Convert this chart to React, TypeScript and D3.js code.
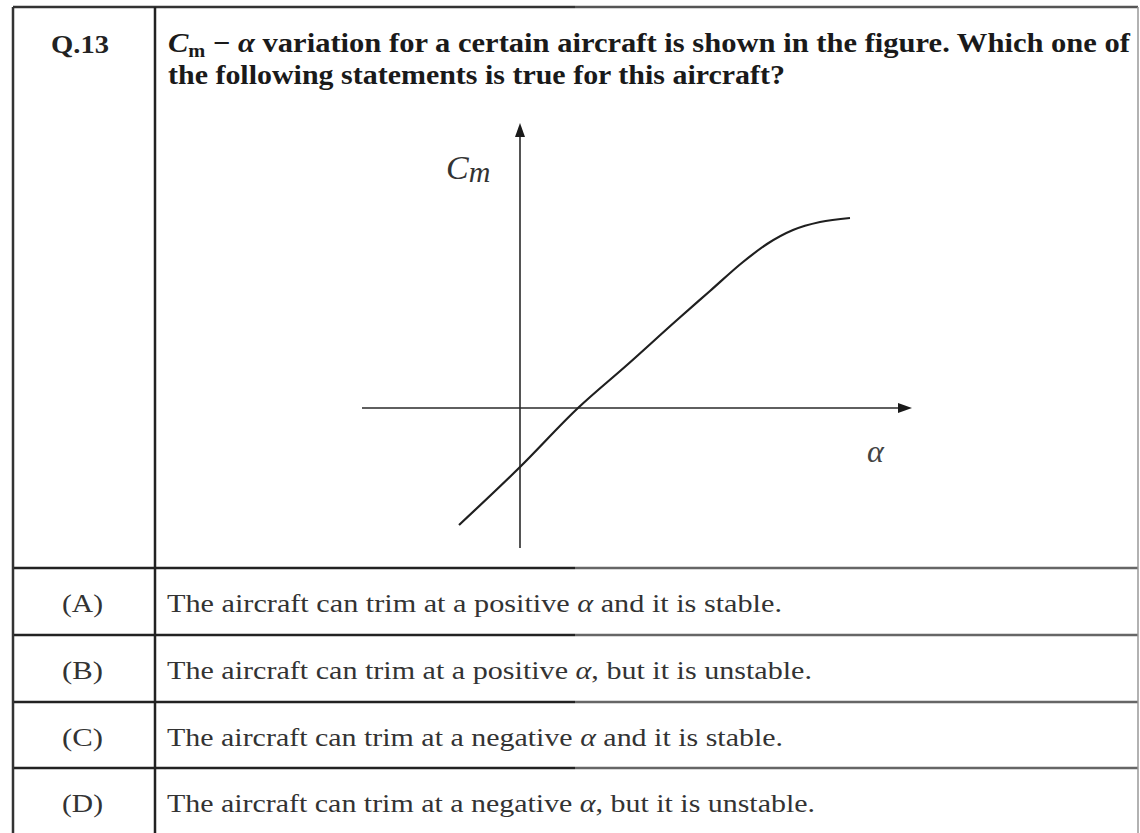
import React from 'react';
import * as d3 from 'd3';

// Cm vs alpha curve (arbitrary units, origin at axis crossing)
const alphaVals = [-0.61, 0.0, 0.58, 1.07, 1.57, 1.9, 2.23, 2.47, 2.73, 3.0, 3.3];
const cmVals = [-1.17, -0.59, 0.0, 0.43, 0.88, 1.17, 1.46, 1.64, 1.78, 1.86, 1.9];

const optionLabels = ['(A)', '(B)', '(C)', '(D)'];
const optionPre = [
  'The aircraft can trim at a positive ',
  'The aircraft can trim at a positive ',
  'The aircraft can trim at a negative ',
  'The aircraft can trim at a negative ',
];
const optionPost = [' and it is stable.', ', but it is unstable.', ' and it is stable.', ', but it is unstable.'];
const optionEnds = [782, 812, 783, 815];

const W = 1140;
const H = 833;
const SERIF = '"Liberation Serif", "Times New Roman", Times, serif';

export default function App() {
  const x = d3.scaleLinear().domain([-1.58, 3.92]).range([362, 912]);
  const y = d3.scaleLinear().domain([-1.4, 2.85]).range([548, 123]);

  const pts = alphaVals.map((a, i) => [a, cmVals[i]] as [number, number]);
  const line = d3
    .line<[number, number]>()
    .x(d => x(d[0]))
    .y(d => y(d[1]))
    .curve(d3.curveMonotoneX);

  const x0 = x(0);
  const y0 = y(0);

  // table geometry
  const left = 13;
  const divX = 155;
  const right = 1138;
  const rowLines = [568, 635, 702, 768];

  return (
    <svg width={W} height={H} style={{ position: 'absolute', left: 0, top: 0, background: '#fff' }}>
      <rect x={0} y={0} width={W} height={H} fill="#fff" />

      {/* table borders */}
      <g strokeWidth={2.5} fill="none">
        <line x1={left} y1={7} x2={575} y2={7} stroke="#333" />
        <line x1={575} y1={7} x2={right} y2={7} stroke="#555" />
        {rowLines.map((ry, i) => (
          <g key={i}>
            <line x1={left} y1={ry} x2={575} y2={ry} stroke="#222" />
            <line x1={575} y1={ry} x2={right} y2={ry} stroke="#666" />
          </g>
        ))}
        <line x1={left} y1={7} x2={left} y2={H} stroke="#333" />
        <line x1={divX} y1={7} x2={divX} y2={H} stroke="#222" />
        <line x1={right} y1={7} x2={right} y2={H} stroke="#999" strokeWidth={1.5} />
      </g>

      {/* header */}
      <text
        x={51}
        y={53}
        fontFamily={SERIF}
        fontWeight="bold"
        fontSize={26}
        fill="#222"
        textLength={58}
        lengthAdjust="spacingAndGlyphs"
      >
        Q.13
      </text>
      <text
        x={168}
        y={52}
        fontFamily={SERIF}
        fontWeight="bold"
        fontSize={27}
        fill="#1a1a1a"
        textLength={1130 - 168}
        lengthAdjust="spacingAndGlyphs"
      >
        <tspan fontStyle="italic">C</tspan>
        <tspan fontSize={18} dy={5}>m</tspan>
        <tspan dy={-5}> − </tspan>
        <tspan fontStyle="italic">α</tspan>
        <tspan> variation for a certain aircraft is shown in the figure. Which one of</tspan>
      </text>
      <text
        x={168}
        y={84}
        fontFamily={SERIF}
        fontWeight="bold"
        fontSize={27}
        fill="#1a1a1a"
        textLength={785 - 168}
        lengthAdjust="spacingAndGlyphs"
      >
        the following statements is true for this aircraft?
      </text>

      {/* chart axes */}
      <g stroke="#2a2a2a" strokeWidth={1.6}>
        <line x1={x0} y1={y.range()[0]} x2={x0} y2={y.range()[1] + 10} />
        <line x1={x.range()[0]} y1={y0} x2={x.range()[1] - 10} y2={y0} />
      </g>
      <path
        d={`M${x0},${y.range()[1]} L${x0 - 5},${y.range()[1] + 14} L${x0 + 5},${y.range()[1] + 14} Z`}
        fill="#1a1a1a"
      />
      <path
        d={`M${x.range()[1]},${y0} L${x.range()[1] - 14},${y0 - 5} L${x.range()[1] - 14},${y0 + 5} Z`}
        fill="#1a1a1a"
      />
      <path d={line(pts) || ''} fill="none" stroke="#1f1f1f" strokeWidth={2.2} />

      {/* axis labels */}
      <text x={446} y={179} fontFamily={SERIF} fontStyle="italic" fontSize={34} fill="#333">
        C<tspan fontSize={30} dy={3}>m</tspan>
      </text>
      <text x={867} y={462} fontFamily={SERIF} fontStyle="italic" fontSize={32} fill="#444">
        α
      </text>

      {/* options */}
      {optionLabels.map((lab, i) => {
        const base = rowLines[i] + 44;
        return (
          <g key={lab}>
            <text
              x={62}
              y={base}
              fontFamily={SERIF}
              fontSize={25}
              fill="#333"
              textLength={41}
              lengthAdjust="spacingAndGlyphs"
            >
              {lab}
            </text>
            <text
              x={167}
              y={base}
              fontFamily={SERIF}
              fontSize={25}
              fill="#333"
              textLength={optionEnds[i] - 167}
              lengthAdjust="spacingAndGlyphs"
            >
              {optionPre[i]}
              <tspan fontStyle="italic">α</tspan>
              {optionPost[i]}
            </text>
          </g>
        );
      })}
    </svg>
  );
}
